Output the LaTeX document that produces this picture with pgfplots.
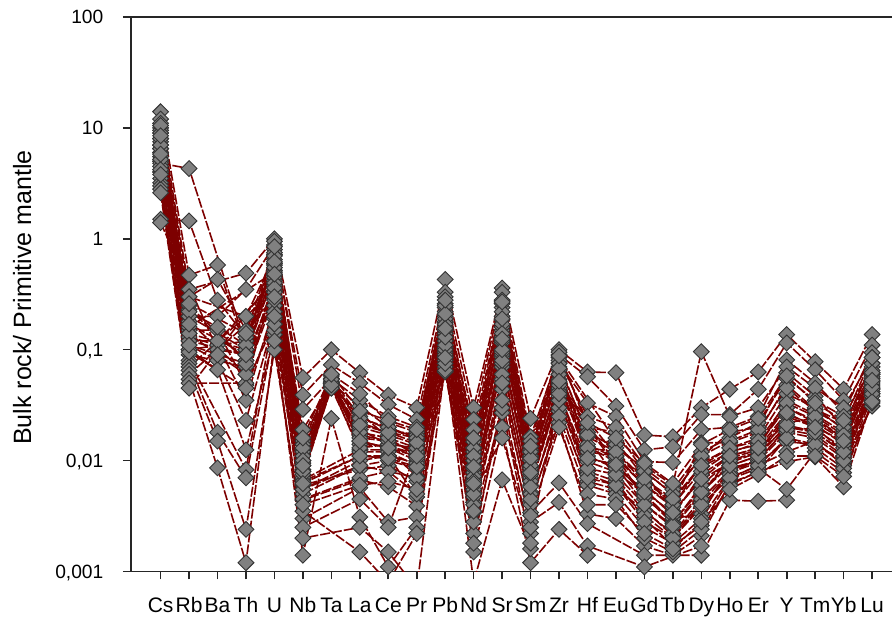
\documentclass[border=0pt]{standalone}
\usepackage{fontspec}
\setmainfont{Liberation Sans}
\usepackage{pgfplots}
\usepackage{pgfplotstable}
\pgfplotsset{compat=1.18}
\definecolor{linered}{RGB}{125,0,0}
\definecolor{mkgrey}{RGB}{128,128,128}

% rows = elements (x index), columns = samples
\pgfplotstableread{
x S1 S2 S3 S4 S5 S6 S7 S8 S9 S10 S11 S12 S13 S14 S15 S16 S17 S18 S19 S20 S21 S22 S23 S24 S25 S26 S27 S28 S29 S30 S31 S32 S33 S34 S35 S36
0 14 12 11 10 9.5 9 8 7.5 7 6.5 6 5.5 5 5 4.8 4.5 4 4 3.5 3.2 3 2.8 2.6 1.5 1.4 5.2 6 8 6.5 9 4.2 7 10.5 3.8 5.8 8.5
1 0.47 0.35 0.3 0.23 0.2 0.18 0.15 0.14 0.13 0.12 0.11 0.1 0.1 0.09 4.3 0.08 0.075 0.07 0.065 0.06 0.054 0.05 0.045 1.45 nan 0.16 0.25 0.12 0.2 0.14 0.3 0.095 0.22 0.11 0.17 0.26
2 0.58 nan 0.43 nan 0.2 nan 0.15 nan 0.11 nan 0.08 nan 0.066 nan nan nan 0.018 nan 0.015 nan 0.0086 nan nan 0.28 0.1 nan nan 0.12 nan 0.09 nan nan 0.16 nan nan nan
3 0.1 0.49 0.15 0.08 0.35 0.06 0.048 0.1 0.035 0.09 0.023 0.12 0.0125 0.07 0.11 0.0083 0.007 nan 0.0024 nan 0.0012 0.05 nan 0.13 0.09 nan 0.08 nan 0.1 0.06 0.2 0.045 0.11 0.075 0.09 0.14
4 0.72 1.0 0.58 0.38 0.88 0.3 0.47 0.95 0.25 0.52 0.19 0.65 0.137 0.42 0.8 0.22 0.15 0.34 0.1 0.28 0.12 0.17 0.45 0.6 0.33 0.5 0.75 0.4 0.55 0.36 0.7 0.2 0.62 0.3 0.48 0.85
5 0.019 0.056 0.0125 0.0067 0.039 0.0055 0.01 0.029 0.0044 0.0083 0.003 0.015 0.0014 0.009 0.012 0.006 0.0035 0.007 0.0025 0.005 0.002 0.0045 0.008 0.011 0.0065 0.0075 0.014 0.0095 0.008 0.0055 0.013 0.004 0.01 0.0062 0.009 0.016
6 0.05 0.1 0.045 nan 0.073 nan 0.05 0.055 nan 0.048 nan 0.052 0.024 0.05 0.06 nan nan 0.047 nan nan nan nan 0.05 0.055 nan 0.045 0.058 0.05 0.05 nan 0.05 nan 0.054 nan 0.048 0.06
7 0.031 0.062 0.027 0.0125 0.05 0.01 0.019 0.035 0.0067 0.015 0.0057 0.022 0.0031 0.017 0.04 0.0083 0.0015 0.012 0.0045 0.009 0.0025 0.007 0.014 0.025 0.011 0.013 0.02 0.016 0.018 0.009 0.024 0.006 0.021 0.011 0.015 0.028
8 0.02 0.039 0.016 0.0125 0.032 0.011 0.014 0.025 0.0058 0.013 0.0028 0.018 0.0011 0.015 0.022 0.009 0.0008 0.012 0.0025 0.01 0.0015 0.008 0.0135 0.019 0.011 0.014 0.017 0.015 0.016 0.008 0.02 0.0065 0.018 0.0105 0.013 0.023
9 0.0154 0.03 0.011 0.0072 0.0235 0.0047 0.013 0.02 0.0039 0.01 0.0031 0.016 0.0025 0.012 0.018 0.0065 0.0022 0.009 nan 0.0085 0.0007 0.005 0.0115 0.017 0.0095 0.0105 0.014 0.012 0.013 0.007 0.016 0.0055 0.0145 0.0088 0.011 0.019
10 0.2 0.43 0.15 0.12 0.33 0.086 0.175 0.26 0.07 0.14 0.063 0.22 0.104 0.16 0.3 0.095 0.08 0.13 0.065 0.11 0.075 0.09 0.18 0.24 0.1 0.12 0.19 0.15 0.17 0.11 0.25 0.085 0.21 0.13 0.155 0.28
11 0.0148 0.03 0.0078 0.0063 0.0235 0.0042 0.01 0.019 0.0034 0.0068 0.0022 0.012 0.0015 0.0085 0.016 0.0051 0.0008 0.0055 0.0028 0.0047 0.0018 0.004 0.0072 0.013 0.006 0.0065 0.011 0.009 0.01 0.005 0.013 0.0035 0.011 0.0062 0.0088 0.016
12 0.15 0.36 0.115 0.07 0.33 0.054 0.186 0.28 0.044 0.086 0.027 0.24 0.02 0.13 0.2 0.016 0.0067 0.1 0.03 0.075 0.035 0.06 0.16 0.26 0.09 0.095 0.17 0.12 0.14 0.08 0.22 0.05 0.19 0.1 0.125 0.27
13 0.0108 0.024 0.0088 0.0052 0.0164 0.0043 0.0133 0.015 0.0034 0.007 0.0028 0.012 0.0012 0.008 0.011 0.0022 0.0016 0.006 0.0018 0.005 0.0025 0.004 0.009 0.0125 0.0065 0.0075 0.01 0.0085 0.009 0.0045 0.012 0.0032 0.0105 0.0058 0.0078 0.0135
14 0.054 0.1 0.044 0.028 0.09 0.022 0.076 0.095 0.0063 0.04 0.0042 0.085 0.0024 0.05 0.08 0.035 nan 0.045 nan 0.03 nan 0.025 0.06 0.07 0.038 0.042 0.065 0.048 0.06 0.035 0.075 0.02 0.068 0.04 0.052 0.088
15 0.0164 0.063 0.0133 0.0065 0.057 0.0033 0.033 0.02 0.0027 0.0098 0.0017 nan 0.0014 nan 0.025 0.008 nan nan nan 0.006 nan 0.005 0.011 0.018 nan 0.0075 0.014 nan 0.012 0.007 0.017 0.004 0.013 0.0085 0.0105 0.022
16 0.012 0.062 0.0098 0.0055 0.031 0.003 0.025 0.018 nan 0.0079 nan 0.015 nan 0.011 0.02 0.0065 nan 0.009 nan 0.005 nan 0.0045 0.0085 0.013 0.007 0.006 0.0105 0.0095 0.011 0.006 0.014 0.004 0.012 0.0075 0.0092 0.016
17 0.0063 0.017 0.0078 0.0036 0.0125 0.0017 0.0098 0.008 0.0014 0.005 0.0011 0.007 nan 0.0045 0.009 0.003 nan 0.004 nan 0.0025 nan 0.002 0.0055 0.0085 0.0035 0.0032 0.006 0.0048 0.006 0.0028 0.008 0.0022 0.0068 0.004 0.0052 0.0095
18 0.0044 0.0164 0.0035 0.0021 0.0133 0.0014 0.0096 0.005 nan 0.0028 nan 0.004 nan 0.003 0.006 0.0017 nan 0.0025 nan 0.0018 nan 0.0015 0.0032 0.0055 0.0022 0.002 0.0038 0.0027 0.004 0.002 0.005 0.0016 0.0045 0.0026 0.0034 0.0062
19 0.0088 0.03 0.0067 0.0042 0.026 0.0021 0.019 0.0108 0.0014 0.0055 0.0017 0.0145 nan 0.0033 0.096 0.0026 nan 0.005 nan 0.003 nan 0.0024 0.0075 0.012 0.0045 0.0038 0.0095 0.006 0.008 0.004 0.011 0.0028 0.009 0.0052 0.0068 0.014
20 0.0118 0.044 0.0096 0.0078 0.026 0.0063 0.02 0.018 0.0044 0.009 nan 0.0145 nan 0.0085 0.025 0.0068 nan 0.0105 nan 0.007 nan 0.006 0.011 0.016 0.0082 0.0075 0.013 0.01 0.012 0.007 0.015 0.0055 0.013 0.009 0.011 0.019
21 0.0145 0.063 0.0118 0.0096 0.044 0.0078 0.025 0.02 0.0043 0.011 nan 0.018 nan 0.01 0.03 0.0085 nan 0.0125 nan 0.009 nan 0.008 0.013 0.022 0.01 0.0105 0.016 0.012 0.014 0.009 0.019 0.0075 0.015 0.011 0.013 0.024
22 0.03 0.137 0.02 0.0148 0.115 0.0098 0.081 0.062 0.0044 0.025 nan 0.048 nan 0.018 0.07 0.0055 nan 0.022 nan 0.012 nan 0.016 0.035 0.055 0.02 0.019 0.04 0.026 0.03 0.016 0.045 0.011 0.033 0.021 0.027 0.058
23 0.022 0.078 0.018 0.014 0.066 0.0108 0.05 0.038 nan 0.02 nan 0.029 nan 0.016 0.045 0.012 nan 0.024 nan 0.015 nan 0.013 0.026 0.035 0.019 0.017 0.03 0.021 0.023 0.014 0.028 0.011 0.025 0.018 0.02 0.033
24 0.0154 0.044 0.0118 0.0096 0.035 0.0058 0.027 0.02 nan 0.012 nan 0.022 nan 0.0105 0.03 0.0078 nan 0.016 nan 0.009 nan 0.0085 0.018 0.025 0.013 0.011 0.019 0.014 0.016 0.01 0.02 0.0072 0.017 0.012 0.015 0.023
25 0.052 0.137 0.042 0.031 0.11 0.035 0.094 0.076 nan 0.048 nan 0.062 nan 0.04 0.085 0.033 nan 0.055 nan 0.045 nan 0.038 0.06 0.07 0.05 0.044 0.065 0.057 0.06 0.04 0.075 0.034 0.062 0.046 0.053 0.085
}\data

\begin{document}
\begin{tikzpicture}
\begin{axis}[
  name=ax,
  at={(0,0)}, anchor=south west,
  scale only axis,
  width=380.5pt, height=277.25pt,
  xmin=-1.04, xmax=25.7,
  ymode=log, ymin=0.001, ymax=100,
  axis x line*=bottom, axis y line*=left,
  axis line style={line width=0.9pt, black!85},
  tick style={line width=0.8pt, black!85},
  tick align=outside, major tick length=4pt,
  yminorticks=false, xminorticks=false,
  xtick={0,...,25},
  xticklabels={Cs,Rb,Ba,Th,U,Nb,Ta,La,Ce,Pr,Pb,Nd,Sr,Sm,Zr,Hf,Eu,Gd,Tb,Dy,Ho,Er,Y,Tm,Yb,Lu},
  ytick={0.001,0.01,0.1,1,10,100},
  yticklabels={{0,001},{0,01},{0,1},1,10,100},
  /pgf/number format/assume math mode=true,
  xticklabel style={font=\fontsize{10.5}{12}\selectfont, anchor=base, inner sep=0pt, yshift=-16.75pt},
  yticklabel style={font=\fontsize{9.6}{11}\selectfont, anchor=base east, inner sep=0pt, xshift=-9.65pt, yshift=-3.45pt},
  every axis y label/.style={at={(rel axis cs:-0.1314,0.494)}, rotate=90, anchor=base, font=\fontsize{12.5}{14}\selectfont},
  ylabel={Bulk rock/ Primitive mantle},
  clip mode=individual,
]
\pgfplotsinvokeforeach{1,...,36}{
  \addplot[linered, line width=0.8pt, dash pattern=on 5pt off 1pt, no markers] table[x=x, y=S#1]{\data};
}
\pgfplotsinvokeforeach{1,...,36}{
  \addplot[only marks, mark=square*, mark size=2.8pt,
    mark options={rotate=45, fill=mkgrey, draw=black!80, line width=0.45pt, solid}] table[x=x, y=S#1]{\data};
}
\end{axis}
\draw[line width=0.9pt, black!85] (ax.north west) -- (ax.north east);
\pgfresetboundingbox
\useasboundingbox (-65.5pt,-23.75pt) rectangle (380.5pt,285.75pt);
\end{tikzpicture}
\end{document}
